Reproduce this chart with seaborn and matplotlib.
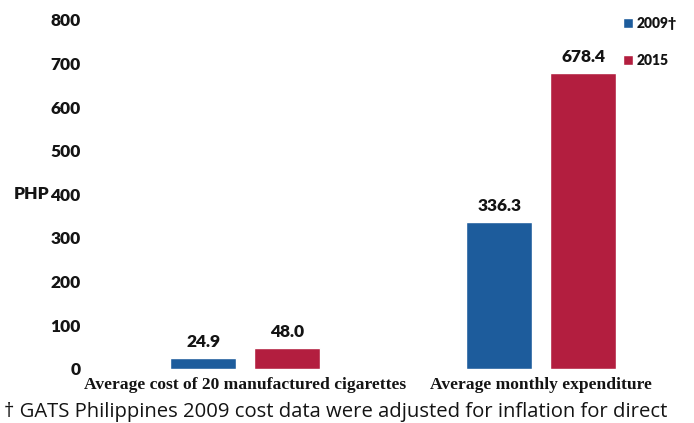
import matplotlib
matplotlib.use("Agg")
import matplotlib.pyplot as plt
import seaborn as sns
import pandas as pd

categories = ["Average cost of 20 manufactured cigarettes", "Average monthly expenditure"]
years = ["2009†", "2015"]
values_2009 = [24.9, 336.3]
values_2015 = [48.0, 678.4]
yticks = [0, 100, 200, 300, 400, 500, 600, 700, 800]
footnote = "† GATS Philippines 2009 cost data were adjusted for inflation for direct"

df = pd.DataFrame({
    "category": categories * 2,
    "year": [years[0]] * 2 + [years[1]] * 2,
    "value": values_2009 + values_2015,
})

sns.set_style("white")
plt.rcParams["font.family"] = ["Lato", "DejaVu Sans"]

palette = {years[0]: "#1d5c9c", years[1]: "#b31e3f"}
ink = "#141414"

fig = plt.figure(figsize=(6.94, 4.23), dpi=100)
ax = fig.add_axes([0.140, 0.128, 0.853, 0.825])

sns.barplot(data=df, x="category", y="value", hue="year", palette=palette,
            width=0.568, gap=0.214, saturation=1, ax=ax, legend=True)

for cont in ax.containers:
    ax.bar_label(cont, fmt="%.1f", padding=6, fontsize=12.5, fontweight="heavy",
                 color=ink)

ax.set_xlim(-0.5, 1.5)
ax.set_ylim(0, 800)
ax.set_yticks(yticks)
ax.set_yticklabels([str(t) for t in yticks], fontsize=12.5, fontweight="heavy", color=ink)
ax.tick_params(axis="y", length=0, pad=12)
ax.tick_params(axis="x", length=0, pad=6)
ax.set_xticks([0, 1])
ax.set_xticklabels(categories, fontsize=12.6, fontweight="bold",
                   family=["Liberation Serif", "DejaVu Serif"], color=ink)
ax.set_xlabel("")
ax.set_ylabel("PHP", rotation=0, fontsize=12.5, fontweight="heavy", color=ink,
              ha="right", va="center")
ax.yaxis.set_label_coords(-0.081, 0.5)
for s in ax.spines.values():
    s.set_visible(False)

leg = ax.legend(loc="upper right", bbox_to_anchor=(1.0, 1.045), frameon=False,
                handlelength=0.7, handleheight=0.7, handletextpad=0.25,
                labelspacing=1.75, prop={"weight": "heavy", "size": 10})
for t in leg.get_texts():
    t.set_color(ink)

fig.text(0.006, 0.015, footnote, fontsize=14.6, color=ink, ha="left", va="baseline",
         family=["Open Sans", "DejaVu Sans"])

fig.savefig("out.png", dpi=100)
